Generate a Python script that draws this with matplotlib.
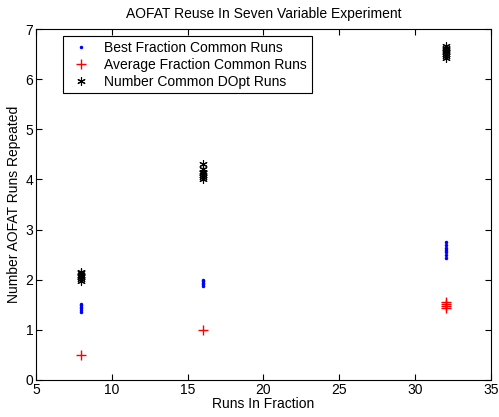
import matplotlib
matplotlib.use('Agg')
import matplotlib.pyplot as plt

plt.rcParams['font.family'] = ['Liberation Sans', 'DejaVu Sans']

# Runs in fraction (x) and repeated values
best_x = [8] * 6 + [16] * 5 + [32] * 7
best_y = [1.36, 1.40, 1.43, 1.46, 1.50, 1.52,
          1.88, 1.91, 1.94, 1.97, 2.00,
          2.43, 2.50, 2.55, 2.60, 2.64, 2.70, 2.75]

avg_x = [8, 16, 32, 32, 32, 32]
avg_y = [0.50, 1.00, 1.44, 1.48, 1.52, 1.55]

dopt_x = [8] * 7 + [16] * 7 + [32] * 8
dopt_y = [1.98, 2.02, 2.05, 2.08, 2.10, 2.13, 2.16,
          4.00, 4.05, 4.08, 4.12, 4.15, 4.20, 4.30,
          6.42, 6.46, 6.50, 6.54, 6.57, 6.60, 6.63, 6.66]

fig = plt.figure(figsize=(4.99, 4.17), dpi=100)
ax = fig.add_axes([0.072, 0.089, 0.912, 0.841])

ax.plot(best_x, best_y, '.', color='blue', markersize=3, label='Best Fraction Common Runs')
ax.plot(avg_x, avg_y, '+', color='red', markersize=7, markeredgewidth=1, label='Average Fraction Common Runs')
ax.plot(dopt_x, dopt_y, marker=(6, 2, 0), linestyle='none', color='black', markersize=6,
        markeredgewidth=0.8, label='Number Common DOpt Runs')

ax.set_xlim(5, 35)
ax.set_ylim(0, 7)
ax.set_xticks(range(5, 36, 5))
ax.set_yticks(range(0, 8))
ax.tick_params(direction='in', labelsize=10, top=True, right=True, length=4, pad=2)
ax.set_title('AOFAT Reuse In Seven Variable Experiment', fontsize=10, pad=8)
ax.set_xlabel('Runs In Fraction', fontsize=10, labelpad=0)
ax.set_ylabel('Number AOFAT Runs Repeated', fontsize=10, labelpad=3)

leg = ax.legend(loc='upper left', bbox_to_anchor=(0.045, 1.0), fontsize=10,
                fancybox=False, edgecolor='black', framealpha=1,
                handlelength=1.8, borderpad=0.35, labelspacing=0.2)
leg.get_frame().set_linewidth(0.8)

fig.savefig('out.png', dpi=100)
